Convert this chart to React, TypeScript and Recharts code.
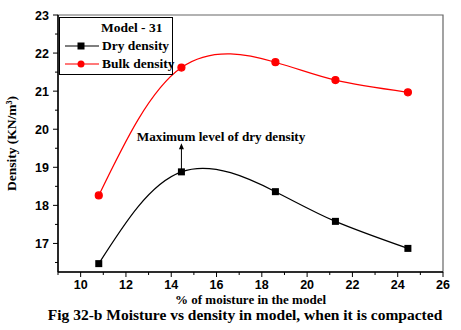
import React from "react";
import {
  LineChart,
  Line,
  XAxis,
  YAxis,
  ReferenceArea,
  ReferenceLine,
  ReferenceDot,
} from "recharts";

const moisture = [10.8, 14.45, 18.6, 21.25, 24.45];
const dryDensity = [16.47, 18.88, 18.36, 17.58, 16.87];
const bulkDensity = [18.26, 21.62, 21.76, 21.29, 20.97];

const xTicks = [9, 10, 11, 12, 13, 14, 15, 16, 17, 18, 19, 20, 21, 22, 23, 24, 25, 26];
const yTicks = [16.5, 17, 17.5, 18, 18.5, 19, 19.5, 20, 20.5, 21, 21.5, 22, 22.5, 23];

const data = moisture.map((m, i) => ({
  m,
  dry: dryDensity[i],
  bulk: bulkDensity[i],
}));

const serif = "'Liberation Serif', 'Times New Roman', serif";
const sans = "'Liberation Sans', Arial, sans-serif";

const XTick = (props: any) => {
  const { x, y, payload } = props;
  const major = payload.value % 2 === 0;
  return (
    <g>
      <line x1={x} y1={y} x2={x} y2={y + (major ? 5 : 3)} stroke="#000" />
      {major && (
        <text x={x} y={y + 16.5} textAnchor="middle" fontFamily={sans} fontWeight="bold" fontSize={12.5} fill="#000">
          {payload.value}
        </text>
      )}
    </g>
  );
};

const YTick = (props: any) => {
  const { x, y, payload } = props;
  const major = Number.isInteger(payload.value);
  return (
    <g>
      <line x1={x} y1={y} x2={x - (major ? 5 : 3)} y2={y} stroke="#000" />
      {major && (
        <text x={x - 9} y={y + 4.5} textAnchor="end" fontFamily={sans} fontWeight="bold" fontSize={12.5} fill="#000">
          {payload.value}
        </text>
      )}
    </g>
  );
};

const Square = (props: any) => {
  const { cx, cy } = props;
  return <rect x={cx - 3.5} y={cy - 3.5} width={7} height={7} fill="#000" />;
};

const Arrow = (props: any) => {
  const { x1, y1, x2, y2 } = props;
  const top = Math.min(y1, y2);
  const bottom = Math.max(y1, y2);
  return (
    <g>
      <line x1={x1} y1={bottom} x2={x2} y2={top + 4} stroke="#000" strokeWidth={1} />
      <polygon points={`${x1 - 2.5},${top + 6} ${x1 + 2.5},${top + 6} ${x1},${top}`} fill="#000" />
    </g>
  );
};

export default function App() {
  return (
    <div style={{ position: "absolute", left: 0, top: 0, width: 461, height: 330, background: "#fff" }}>
      <LineChart width={461} height={330} data={data} margin={{ top: 15, right: 18, left: 0, bottom: 30 }}>
        <XAxis
          dataKey="m"
          type="number"
          domain={[9, 26]}
          ticks={xTicks}
          interval={0}
          tickSize={0}
          tickMargin={0}
          height={28}
          tick={<XTick />}
          axisLine={{ stroke: "#000", strokeWidth: 1.5 }}
          tickLine={false}
          label={{
            value: "% of moisture in the model",
            position: "insideBottom",
            offset: -4,
            fontFamily: serif,
            fontWeight: "bold",
            fontSize: 13,
            fill: "#000",
          }}
        />
        <YAxis
          type="number"
          domain={[16.25, 23]}
          ticks={yTicks}
          interval={0}
          tickSize={0}
          tickMargin={0}
          width={58}
          tick={<YTick />}
          axisLine={{ stroke: "#000", strokeWidth: 1.5 }}
          tickLine={false}
          label={{
            value: "Density (KN/m³)",
            angle: -90,
            position: "insideLeft",
            offset: 11,
            style: { textAnchor: "middle" },
            fontFamily: serif,
            fontWeight: "bold",
            fontSize: 13.5,
            fill: "#000",
          }}
        />
        <ReferenceArea x1={9} x2={26} y1={16.25} y2={23} fill="none" stroke="#666" strokeWidth={1.2} />
        <ReferenceLine
          segment={[
            { x: 14.45, y: 18.88 },
            { x: 14.45, y: 19.63 },
          ]}
          shape={<Arrow />}
        />
        <ReferenceDot
          x={16.2}
          y={19.82}
          r={0}
          fill="none"
          stroke="none"
          label={{
            value: "Maximum level of dry density",
            position: "center",
            fontFamily: serif,
            fontWeight: "bold",
            fontSize: 13.2,
            fill: "#000",
          }}
        />
        <Line
          type="natural"
          dataKey="bulk"
          stroke="#ff0000"
          strokeWidth={1.2}
          dot={{ r: 3.5, fill: "#ff0000", stroke: "#ff0000" }}
          isAnimationActive={false}
        />
        <Line
          type="natural"
          dataKey="dry"
          stroke="#000"
          strokeWidth={1.2}
          dot={<Square />}
          isAnimationActive={false}
        />
      </LineChart>
      <div
        style={{
          position: "absolute",
          left: 59,
          top: 17,
          width: 112,
          height: 56,
          border: "1px solid #000",
          fontFamily: serif,
          fontWeight: "bold",
          fontSize: 13.5,
          lineHeight: "16px",
          whiteSpace: "nowrap",
          color: "#000",
          background: "#fff",
        }}
      >
        <div style={{ position: "absolute", left: 41, top: 2 }}>Model - 31</div>
        <div style={{ position: "absolute", left: 4, top: 20, display: "flex", alignItems: "center" }}>
          <svg width={36} height={12}>
            <line x1={1} y1={6} x2={35} y2={6} stroke="#000" strokeWidth={1.2} />
            <rect x={13.5} y={2.5} width={7} height={7} fill="#000" />
          </svg>
          <span style={{ marginLeft: 2 }}>Dry density</span>
        </div>
        <div style={{ position: "absolute", left: 4, top: 38, display: "flex", alignItems: "center" }}>
          <svg width={36} height={12}>
            <line x1={1} y1={6} x2={35} y2={6} stroke="#ff4d4d" strokeWidth={1.5} />
            <circle cx={17} cy={6} r={3.5} fill="#ff0000" />
          </svg>
          <span style={{ marginLeft: 2 }}>Bulk density</span>
        </div>
      </div>
      <div
        style={{
          position: "absolute",
          left: 0,
          width: 490,
          top: 306,
          textAlign: "center",
          fontFamily: serif,
          fontWeight: "bold",
          fontSize: 15.5,
          whiteSpace: "nowrap",
          color: "#000",
        }}
      >
        Fig 32-b Moisture vs density in model, when it is compacted
      </div>
    </div>
  );
}
